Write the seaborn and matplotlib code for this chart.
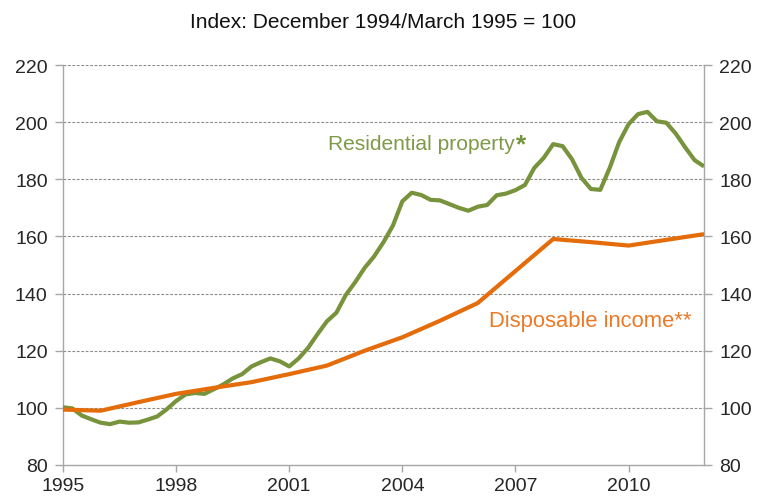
import numpy as np
import pandas as pd
import matplotlib
matplotlib.use("Agg")
import matplotlib.pyplot as plt
import seaborn as sns

# Residential property price index, quarterly from Q1 1995 to Q1 2012
property_idx = [
    100.2, 99.8, 97.3, 96.0,
    94.8, 94.3, 95.2, 94.8,
    94.9, 95.9, 97.0, 99.5,
    102.4, 104.7, 105.2, 104.9,
    106.5, 108.2, 110.3, 111.8,
    114.5, 116.0, 117.3, 116.3,
    114.5, 117.3, 121.0, 125.8,
    130.3, 133.3, 139.5, 144.0,
    149.0, 153.0, 158.0, 163.8,
    172.3, 175.3, 174.5, 172.8,
    172.6, 171.3, 170.0, 169.0,
    170.4, 171.0, 174.4, 175.0,
    176.2, 178.0, 184.0, 187.5,
    192.3, 191.6, 187.0, 180.5,
    176.6, 176.3, 184.0, 193.0,
    199.3, 202.8, 203.6, 200.3,
    199.8, 196.0, 191.2, 186.7,
    184.5,
]

# Disposable income index, annual
income_years = [1995, 1996, 1997, 1998, 1999, 2000, 2001, 2002, 2003,
                2004, 2005, 2006, 2007, 2008, 2009, 2010, 2011, 2012]
income_idx = [99.4, 99.0, 102.0, 104.9, 107.0, 109.0, 111.8, 114.8, 120.0,
              124.7, 130.5, 136.7, 147.9, 159.1, 158.0, 156.8, 158.8, 160.8]

year_ticks = [1995, 1998, 2001, 2004, 2007, 2010]
value_ticks = [80, 100, 120, 140, 160, 180, 200, 220]

green = "#77933C"
orange = "#E46C0A"
axis_grey = "#A6A6A6"

quarters = 1995 + 0.25 * np.arange(len(property_idx))
prop_df = pd.DataFrame({"year": quarters, "value": property_idx})
inc_df = pd.DataFrame({"year": income_years, "value": income_idx})

sns.set_theme(style="white")
plt.rcParams["font.family"] = ["Liberation Sans", "DejaVu Sans"]

fig = plt.figure(figsize=(7.6, 5.02), dpi=100)
ax = fig.add_axes([63 / 760, 36 / 502, 641 / 760, 400 / 502])

for v in value_ticks[1:]:
    ax.axhline(v, color="#8C8C8C", lw=0.8, ls=(0, (2.5, 1.5)), zorder=0)

sns.lineplot(data=prop_df, x="year", y="value", ax=ax, color=green,
             lw=3.0, solid_capstyle="butt", zorder=3)
sns.lineplot(data=inc_df, x="year", y="value", ax=ax, color=orange,
             lw=3.0, solid_capstyle="butt", zorder=4)

ax.set_xlim(1995, 2012)
ax.set_ylim(80, 220)
ax.set_xticks(year_ticks)
ax.set_xticklabels([str(y) for y in year_ticks])
ax.set_yticks(value_ticks)
ax.set_xlabel("")
ax.set_ylabel("")

for side in ["left", "right", "bottom"]:
    ax.spines[side].set_visible(True)
    ax.spines[side].set_color(axis_grey)
    ax.spines[side].set_linewidth(1.0)
ax.spines["top"].set_visible(False)

ax.tick_params(axis="y", which="both", left=True, right=True,
               labelleft=True, labelright=True, direction="out",
               length=6, width=1.0, color=axis_grey,
               labelsize=14, labelcolor="#262626", pad=5)
ax.tick_params(axis="x", bottom=True, direction="out", length=5,
               width=1.0, color=axis_grey, labelsize=14,
               labelcolor="#262626", pad=4)

fig.text(383 / 760, 1 - 22 / 502, "Index: December 1994/March 1995 = 100",
         ha="center", va="center", fontsize=15, color="#111111")

lbl = ax.text(2004.5, 192.6, "Residential property", ha="center",
              va="center", fontsize=15.1, color="#7E9A48")
ax.annotate("*", xy=(1, 1), xycoords=lbl, xytext=(1, 1),
            textcoords="offset points", ha="left", va="top",
            fontsize=19, fontweight="bold", color=green)

ax.text(2008.98, 130.6, "Disposable income**", ha="center", va="center",
        fontsize=15.8, color="#EB7A28")

fig.savefig("out.png", dpi=100)
